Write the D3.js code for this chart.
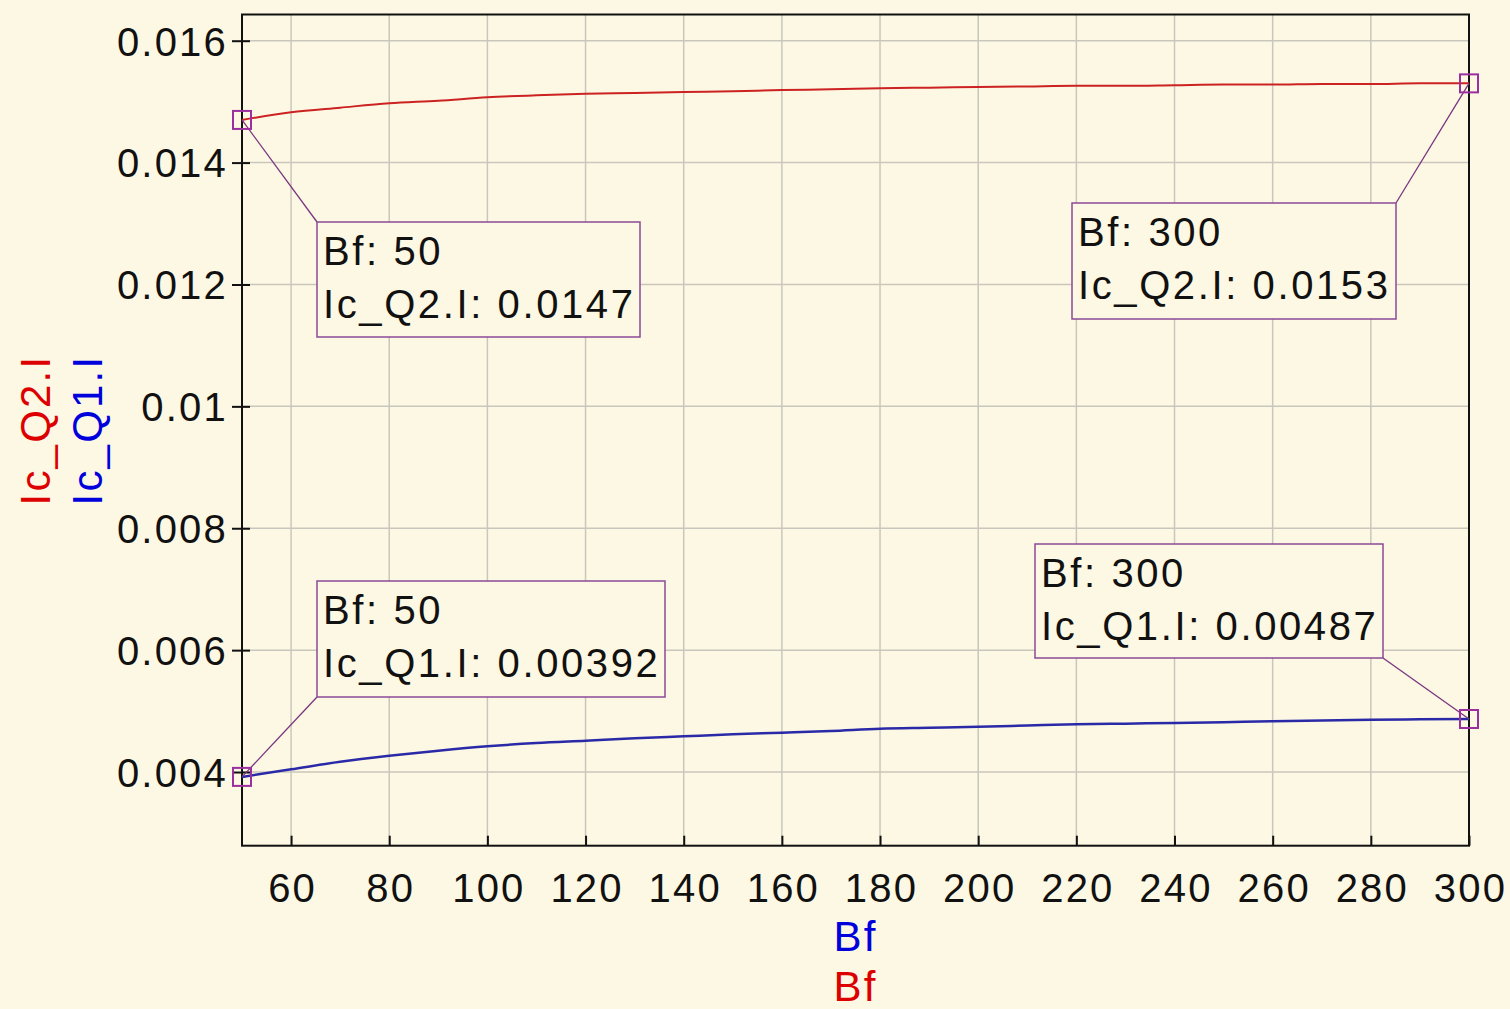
<!DOCTYPE html>
<html>
<head>
<meta charset="utf-8">
<script src="https://cdn.jsdelivr.net/npm/d3@7"></script>
<style>
  html, body { margin: 0; padding: 0; background: #fdf8e3; }
  svg { display: block; }
  text { font-family: "Liberation Sans", Arial, sans-serif; }
</style>
</head>
<body>
<svg id="chart" width="1510" height="1009"></svg>
<script>
// ---- data ----
const bf = [50, 60, 70, 80, 90, 100, 110, 120, 130, 140, 150, 160, 170, 180, 190, 200, 210, 220, 230, 240, 250, 260, 270, 280, 290, 300];
const icQ2 = [0.0147, 0.014825, 0.014901, 0.014973, 0.015015, 0.015071, 0.015104, 0.01513, 0.015142, 0.015158, 0.01517, 0.015191, 0.015202, 0.01522, 0.01523, 0.01524, 0.01525, 0.01526, 0.01526, 0.01527, 0.01528, 0.01528, 0.01529, 0.01529, 0.0153, 0.0153];
const icQ1 = [0.00392, 0.004044, 0.004169, 0.004267, 0.00435, 0.004422, 0.004476, 0.004514, 0.004553, 0.004586, 0.004619, 0.004645, 0.004673, 0.004711, 0.004727, 0.004743, 0.004763, 0.004783, 0.004794, 0.004804, 0.004818, 0.004832, 0.004845, 0.004858, 0.004864, 0.00487];
const xTicks = [60, 80, 100, 120, 140, 160, 180, 200, 220, 240, 260, 280, 300];
const yTicks = [0.004, 0.006, 0.008, 0.01, 0.012, 0.014, 0.016];
const yTickLabels = ["0.004", "0.006", "0.008", "0.01", "0.012", "0.014", "0.016"];
const annotations = [
  { series: "Q2", bf: 50, value: 0.0147, lines: ["Bf: 50", "Ic_Q2.I: 0.0147"] },
  { series: "Q2", bf: 300, value: 0.0153, lines: ["Bf: 300", "Ic_Q2.I: 0.0153"] },
  { series: "Q1", bf: 50, value: 0.00392, lines: ["Bf: 50", "Ic_Q1.I: 0.00392"] },
  { series: "Q1", bf: 300, value: 0.00487, lines: ["Bf: 300", "Ic_Q1.I: 0.00487"] }
];
// box placement (layout only)
const boxLayout = [
  { x: 317, y: 222, w: 323, h: 115, corner: "tl" },
  { x: 1072, y: 203, w: 324, h: 116, corner: "tr" },
  { x: 317, y: 581, w: 348, h: 116, corner: "bl" },
  { x: 1035, y: 544, w: 348, h: 114, corner: "br" }
];

const svg = d3.select("#chart");
const L = 242, R = 1469, T = 14.5, B = 845.7;
const x = d3.scaleLinear().domain([50, 300]).range([L, R]);
const y = d3.scaleLinear().domain([0.002791, 0.01643]).range([B, T]);
const FS = 40, LS = "2.2px", LSA = "2.6px";

svg.append("rect").attr("width", 1510).attr("height", 1009).attr("fill", "#fdf8e3");

// grid
const grid = svg.append("g");
grid.selectAll("line.v").data(xTicks.filter(d => d < 300)).enter().append("line")
  .attr("x1", d => x(d)).attr("x2", d => x(d)).attr("y1", T).attr("y2", B)
  .attr("stroke", "#c9c7bd").attr("stroke-width", 1.5);
grid.selectAll("line.h").data(yTicks).enter().append("line")
  .attr("x1", L).attr("x2", R).attr("y1", d => y(d)).attr("y2", d => y(d))
  .attr("stroke", "#c9c7bd").attr("stroke-width", 1.5);

// frame
svg.append("rect").attr("x", L).attr("y", T).attr("width", R - L).attr("height", B - T)
  .attr("fill", "none").attr("stroke", "#111").attr("stroke-width", 2);

// y axis
const yAxis = d3.axisLeft(y).tickValues(yTicks).tickFormat((d, i) => yTickLabels[i]).tickSize(10).tickPadding(6);
const gy = svg.append("g").attr("transform", `translate(${L},0)`).call(yAxis);
gy.select(".domain").remove();
gy.selectAll(".tick line").attr("stroke", "#111").attr("stroke-width", 2).attr("x2", 8).attr("x1", -10);
gy.selectAll(".tick text").attr("font-size", FS).attr("fill", "#111").attr("font-family", "Liberation Sans")
  .attr("letter-spacing", LS).attr("x", -14).attr("dy", "0.36em");

// x axis
const xAxis = d3.axisBottom(x).tickValues(xTicks).tickSize(0).tickPadding(0);
const gx = svg.append("g").attr("transform", `translate(0,${B})`).call(xAxis);
gx.select(".domain").remove();
gx.selectAll(".tick line").attr("stroke", "#111").attr("stroke-width", 2).attr("y1", -10).attr("y2", 0);
gx.selectAll(".tick text").attr("font-size", FS).attr("fill", "#111").attr("font-family", "Liberation Sans")
  .attr("letter-spacing", LS).attr("x", 1).attr("y", 56).attr("dy", 0);

// axis titles
svg.append("text").attr("x", (L + R) / 2).attr("y", 951).attr("text-anchor", "middle")
  .attr("font-size", 42).attr("letter-spacing", LS).attr("fill", "#0000dd").text("Bf");
svg.append("text").attr("x", (L + R) / 2).attr("y", 1001).attr("text-anchor", "middle")
  .attr("font-size", 42).attr("letter-spacing", LS).attr("fill", "#dd0000").text("Bf");
svg.append("text").attr("transform", `translate(50,${(T + B) / 2}) rotate(-90)`).attr("text-anchor", "middle")
  .attr("font-size", 42).attr("letter-spacing", LS).attr("fill", "#dd0000").text("Ic_Q2.I");
svg.append("text").attr("transform", `translate(102,${(T + B) / 2}) rotate(-90)`).attr("text-anchor", "middle")
  .attr("font-size", 42).attr("letter-spacing", LS).attr("fill", "#0000dd").text("Ic_Q1.I");

// lines
const line = d3.line().curve(d3.curveMonotoneX);
svg.append("path").attr("d", line(bf.map((d, i) => [x(d), y(icQ2[i])])))
  .attr("fill", "none").attr("stroke", "#cc2222").attr("stroke-width", 2);
svg.append("path").attr("d", line(bf.map((d, i) => [x(d), y(icQ1[i])])))
  .attr("fill", "none").attr("stroke", "#2a2aa8").attr("stroke-width", 2.5);

// annotations
annotations.forEach((a, i) => {
  const b = boxLayout[i];
  const px = x(a.bf), py = y(a.value);
  const cx = b.corner[1] === "l" ? b.x : b.x + b.w;
  const cy = b.corner[0] === "t" ? b.y : b.y + b.h;
  svg.append("line").attr("x1", px).attr("y1", py).attr("x2", cx).attr("y2", cy)
    .attr("stroke", "#7a3580").attr("stroke-width", 1.3);
  svg.append("rect").attr("x", b.x).attr("y", b.y).attr("width", b.w).attr("height", b.h)
    .attr("fill", "#fdf8e3").attr("stroke", "#8a4a96").attr("stroke-width", 1.5);
  a.lines.forEach((t, j) => {
    svg.append("text").attr("x", b.x + 6).attr("y", b.y + 43 + j * 53)
      .attr("font-size", FS).attr("letter-spacing", LSA).attr("fill", "#111").text(t);
  });
  svg.append("rect").attr("x", px - 9).attr("y", py - 9).attr("width", 18).attr("height", 18)
    .attr("fill", "none").attr("stroke", "#9b2f9f").attr("stroke-width", 2);
});
</script>
</body>
</html>
